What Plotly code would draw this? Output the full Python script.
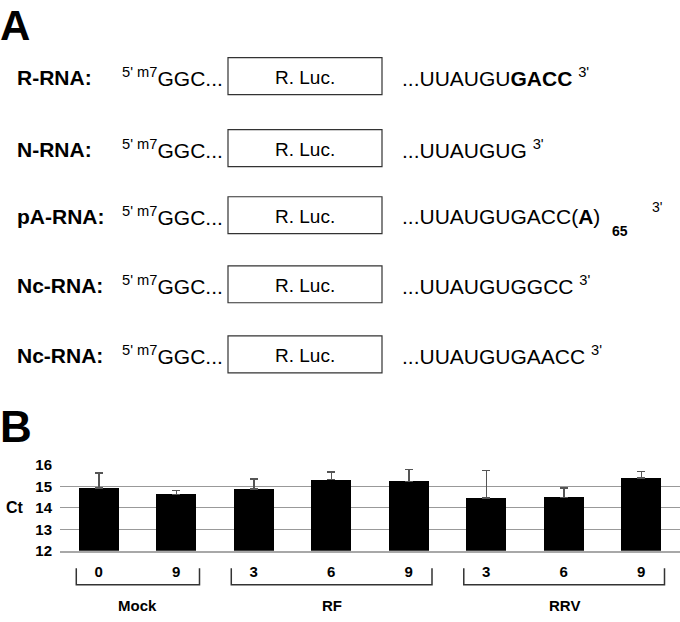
import plotly.graph_objects as go

# ---- panel B data (Ct values) ----
hpi_labels = ['0', '9', '3', '6', '9', '3', '6', '9']
ct_mean = [14.94, 14.64, 14.88, 15.32, 15.24, 14.47, 14.50, 15.39]
ct_err = [0.70, 0.18, 0.47, 0.36, 0.56, 1.28, 0.44, 0.32]
group_names = ['Mock', 'RF', 'RRV']
group_first = [0, 2, 5]
group_last = [1, 4, 7]
y_ticks = [12, 13, 14, 15, 16]

# ---- panel A constructs ----
rna_names = ['R-RNA:', 'N-RNA:', 'pA-RNA:', 'Nc-RNA:', 'Nc-RNA:']
five_prime = "<sup>5' m7</sup>GGC..."
box_label = 'R. Luc.'
three_prime = ['...UUAUGU<b>GACC</b> <sup>3\'</sup>',
               '...UUAUGUG <sup>3\'</sup>',
               '...UUAUGUGACC(<b>A</b>)',
               '...UUAUGUGGCC <sup>3\'</sup>',
               '...UUAUGUGAACC <sup>3\'</sup>']

W, H = 680, 622
FONT = 'Liberation Sans, Arial, sans-serif'


def px(x):
    return x / W


def py(y):
    return 1 - y / H


row_y = [69, 143, 212, 283, 355]
box_x0, box_x1, box_h = 228, 382, 38

fig = go.Figure()

fig.add_trace(go.Bar(
    x=list(range(len(ct_mean))),
    y=ct_mean,
    width=0.52,
    marker=dict(color='black', line=dict(width=0)),
    error_y=dict(type='data', array=ct_err, arrayminus=[0] * len(ct_err),
                 symmetric=False, color='#555555', thickness=1.5, width=4),
    showlegend=False,
))

shapes = []
ann = []

# panel letters
ann.append(dict(x=px(-2), y=py(17), text='<b>A</b>', font=dict(size=42, color='black', family=FONT),
                xanchor='left', yanchor='middle', showarrow=False))
ann.append(dict(x=px(-2), y=py(429), text='<b>B</b>', font=dict(size=44, color='black', family=FONT),
                xanchor='left', yanchor='middle', showarrow=False))

for i, name in enumerate(rna_names):
    yc = row_y[i]
    ann.append(dict(x=px(15), y=py(yc + 1), text=f'<b>{name}</b>', showarrow=False,
                    xanchor='left', yanchor='middle', font=dict(size=21, family=FONT, color='black')))
    ann.append(dict(x=px(225), y=py(yc + 1), text=five_prime, showarrow=False,
                    xanchor='right', yanchor='middle', font=dict(size=21, family=FONT, color='black')))
    shapes.append(dict(type='rect', xref='paper', yref='paper',
                       x0=px(box_x0), x1=px(box_x1), y0=py(yc - box_h / 2), y1=py(yc + box_h / 2),
                       line=dict(color='#333333', width=1.2), fillcolor='white'))
    ann.append(dict(x=px((box_x0 + box_x1) / 2), y=py(yc + 1), text=box_label, showarrow=False,
                    xanchor='center', yanchor='middle', font=dict(size=19, family=FONT, color='black')))
    ann.append(dict(x=px(400), y=py(yc + 1), text=three_prime[i], showarrow=False,
                    xanchor='left', yanchor='middle', font=dict(size=21, family=FONT, color='black')))

# poly(A) subscript and 3' end for the pA row
ann.append(dict(x=px(610), y=py(228), text='<b>65</b>', showarrow=False,
                xanchor='left', yanchor='middle', font=dict(size=14, family=FONT, color='black')))
ann.append(dict(x=px(650), y=py(204), text="3'", showarrow=False,
                xanchor='left', yanchor='middle', font=dict(size=14, family=FONT, color='black')))

# Ct label
ann.append(dict(x=px(4), y=py(512), text='<b>Ct</b>', showarrow=False,
                xanchor='left', yanchor='middle', font=dict(size=16, family=FONT, color='black')))

# group brackets below the category labels
for name, a, b in zip(group_names, group_first, group_last):
    x0, x1 = a - 0.29, b + 0.3
    yt, yb = py(575), py(592)
    shapes.append(dict(type='path', xref='x', yref='paper',
                       path=f'M {x0},{yt} L {x0},{yb} L {x1},{yb} L {x1},{yt}',
                       line=dict(color='#333333', width=1.5)))
    ann.append(dict(x=(x0 + x1) / 2, xref='x', y=py(613), yref='paper', text=f'<b>{name}</b>',
                    showarrow=False, xanchor='center', yanchor='middle',
                    font=dict(size=15, family=FONT, color='black')))

for a in ann:
    a.setdefault('xref', 'paper')
    a.setdefault('yref', 'paper')

fig.update_layout(
    width=W, height=H,
    margin=dict(l=0, r=0, t=0, b=0),
    paper_bgcolor='white', plot_bgcolor='white',
    font=dict(family=FONT, color='black'),
    shapes=shapes,
    annotations=ann,
    xaxis=dict(domain=[px(60), 1], range=[-0.5, 7.5],
               tickvals=list(range(len(hpi_labels))), ticktext=[f'<b>{t}</b>' for t in hpi_labels],
               tickfont=dict(size=15, color='black'), showgrid=False, zeroline=False,
               showline=True, linecolor='#a8a8a8', linewidth=1.5, ticks='', ticklabelstandoff=6),
    yaxis=dict(domain=[py(557), py(469)], range=[12, 16], tickvals=y_ticks,
               ticktext=[f'<b>{t}</b>' for t in y_ticks],
               tickfont=dict(size=15, color='black'), showgrid=True, gridcolor='#999999', gridwidth=1.2,
               zeroline=False, showline=False, ticks='', ticklabelstandoff=7),
    bargap=0,
)

# page margin off so the figure sits at the window's corner; no toolbar
fig.write_html('out.html', config={'displayModeBar': False},
               post_script="document.body.style.margin='0';")
